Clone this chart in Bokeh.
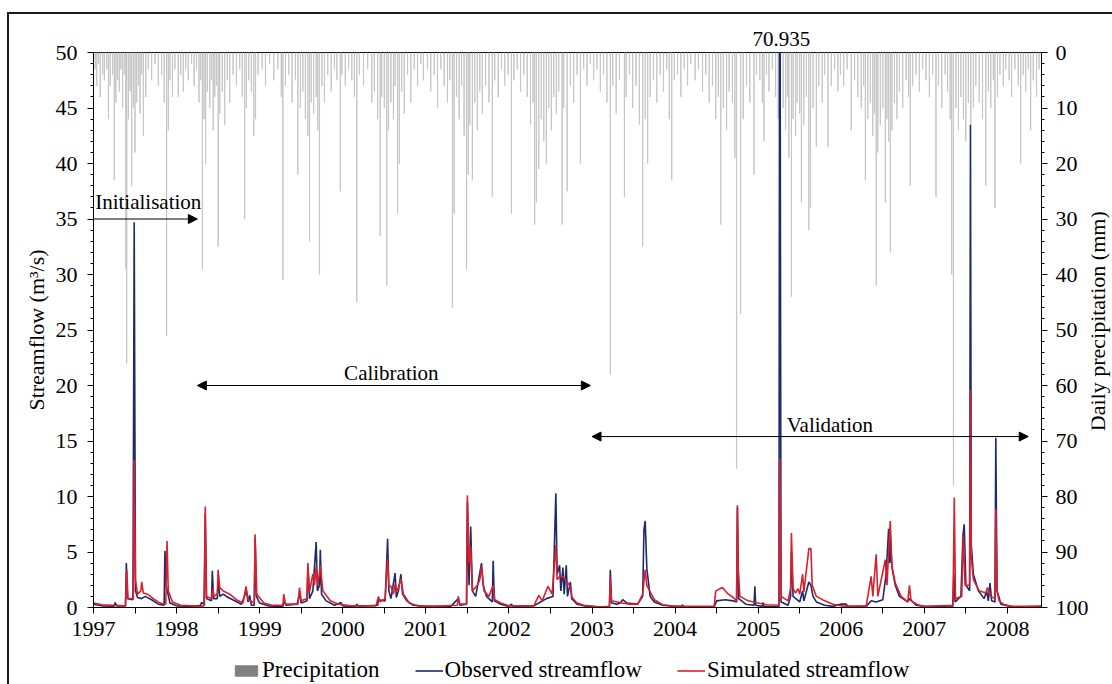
import math
from bokeh.plotting import figure
from bokeh.layouts import row, column
from bokeh.models import (Range1d, LinearAxis, FixedTicker, CustomJSTickFormatter, Label,
                          Arrow, NormalHead, Legend, LegendItem, ColumnDataSource)
from bokeh.embed import file_html
from bokeh.resources import INLINE

# ---------------- data (decimal year, value) ----------------
observed_flow = [
    (1997.00, 0.30), (1997.10, 0.15), (1997.25, 0.12), (1997.26, 0.45), (1997.28, 0.15), (1997.385, 0.15),
    (1997.395, 4.0), (1997.41, 0.8), (1997.475, 0.7), (1997.49, 34.7), (1997.505, 1.5), (1997.53, 0.9),
    (1997.58, 0.8), (1997.62, 1.0), (1997.70, 0.7), (1997.78, 0.3), (1997.85, 0.2), (1997.86, 5.1),
    (1997.875, 2.0), (1997.92, 0.4), (1998.00, 0.15), (1998.20, 0.1), (1998.29, 0.2), (1998.30, 0.45),
    (1998.33, 0.3), (1998.345, 8.5), (1998.36, 0.8), (1998.42, 0.6), (1998.43, 3.3), (1998.445, 0.8),
    (1998.49, 0.8), (1998.50, 2.6), (1998.52, 1.0), (1998.56, 1.2), (1998.62, 0.9), (1998.70, 0.6),
    (1998.78, 0.3), (1998.84, 1.5), (1998.86, 0.5), (1998.88, 1.1), (1998.90, 0.2), (1998.935, 0.2),
    (1998.945, 6.3), (1998.96, 1.0), (1999.00, 0.4), (1999.10, 0.15), (1999.28, 0.1), (1999.29, 0.5),
    (1999.32, 0.2), (1999.45, 0.3), (1999.48, 1.2), (1999.50, 0.4), (1999.57, 0.6), (1999.58, 3.5),
    (1999.60, 0.8), (1999.64, 1.5), (1999.68, 5.9), (1999.695, 1.5), (1999.72, 2.0), (1999.73, 5.2),
    (1999.745, 1.2), (1999.80, 0.6), (1999.90, 0.2), (1999.98, 0.45), (2000.00, 0.15), (2000.15, 0.1),
    (2000.17, 0.3), (2000.19, 0.1), (2000.42, 0.2), (2000.43, 0.7), (2000.51, 0.6), (2000.54, 6.2),
    (2000.555, 1.5), (2000.58, 0.8), (2000.63, 3.1), (2000.645, 0.9), (2000.67, 1.5), (2000.70, 3.0),
    (2000.72, 1.2), (2000.77, 0.6), (2000.85, 0.2), (2001.00, 0.1), (2001.30, 0.1), (2001.39, 0.8),
    (2001.41, 0.2), (2001.49, 0.3), (2001.50, 9.5), (2001.52, 2.0), (2001.54, 7.3), (2001.56, 1.5),
    (2001.60, 1.0), (2001.67, 4.0), (2001.69, 2.0), (2001.73, 1.0), (2001.80, 0.5), (2001.81, 4.2),
    (2001.825, 0.6), (2001.90, 0.3), (2002.00, 0.1), (2002.03, 0.3), (2002.05, 0.1), (2002.30, 0.15),
    (2002.38, 0.5), (2002.45, 0.8), (2002.53, 1.0), (2002.565, 10.3), (2002.58, 3.0), (2002.61, 3.8),
    (2002.625, 1.5), (2002.65, 3.6), (2002.665, 1.2), (2002.69, 3.8), (2002.705, 1.0), (2002.74, 2.3),
    (2002.755, 0.8), (2002.82, 0.3), (2002.90, 0.15), (2003.10, 0.05), (2003.21, 0.05), (2003.22, 3.4),
    (2003.235, 0.4), (2003.30, 0.3), (2003.34, 0.4), (2003.37, 0.7), (2003.42, 0.4), (2003.55, 0.3),
    (2003.61, 1.0), (2003.625, 7.0), (2003.64, 7.8), (2003.66, 3.5), (2003.70, 1.0), (2003.75, 0.5),
    (2003.85, 0.2), (2004.00, 0.1), (2004.08, 0.1), (2004.09, 0.25), (2004.10, 0.05), (2004.47, 0.05),
    (2004.50, 0.6), (2004.60, 0.7), (2004.70, 0.6), (2004.74, 0.5), (2004.75, 9.0), (2004.765, 0.8),
    (2004.85, 0.3), (2004.95, 0.2), (2004.96, 1.9), (2004.97, 0.2), (2005.05, 0.1), (2005.06, 0.45),
    (2005.07, 0.1), (2005.25, 0.05), (2005.26, 70.935), (2005.275, 0.5), (2005.36, 0.2), (2005.39, 1.0),
    (2005.40, 5.0), (2005.42, 1.0), (2005.50, 0.5), (2005.535, 1.5), (2005.55, 0.6), (2005.61, 2.3),
    (2005.635, 2.0), (2005.66, 1.0), (2005.70, 0.5), (2005.80, 0.2), (2005.90, 0.1), (2005.99, 0.3),
    (2006.06, 0.3), (2006.08, 0.1), (2006.30, 0.1), (2006.36, 0.6), (2006.42, 0.5), (2006.50, 0.7),
    (2006.54, 3.0), (2006.57, 7.1), (2006.585, 4.0), (2006.59, 6.5), (2006.61, 3.6), (2006.65, 2.0),
    (2006.70, 1.0), (2006.80, 0.5), (2006.82, 0.8), (2006.90, 0.2), (2007.00, 0.1), (2007.34, 0.05),
    (2007.355, 3.0), (2007.37, 0.5), (2007.44, 1.0), (2007.465, 6.5), (2007.48, 7.5), (2007.50, 2.0),
    (2007.545, 1.5), (2007.555, 43.5), (2007.565, 5.6), (2007.59, 3.0), (2007.65, 1.5), (2007.72, 0.8),
    (2007.75, 1.5), (2007.77, 0.6), (2007.79, 2.2), (2007.81, 0.6), (2007.85, 0.5), (2007.86, 15.3),
    (2007.875, 1.5), (2007.90, 0.9), (2007.92, 0.3), (2008.00, 0.15), (2008.10, 0.05), (2008.41, 0.1),
]

simulated_flow = [
    (1997.00, 0.4), (1997.10, 0.25), (1997.385, 0.15), (1997.40, 3.4), (1997.415, 0.8), (1997.48, 0.8),
    (1997.49, 13.3), (1997.505, 2.5), (1997.53, 1.2), (1997.57, 1.5), (1997.58, 2.3), (1997.60, 1.3),
    (1997.65, 1.2), (1997.72, 0.8), (1997.80, 0.4), (1997.87, 0.3), (1997.885, 6.0), (1997.90, 1.5),
    (1997.95, 0.5), (1998.05, 0.2), (1998.30, 0.1), (1998.335, 0.2), (1998.345, 9.1), (1998.36, 1.0),
    (1998.42, 0.8), (1998.435, 1.7), (1998.45, 1.0), (1998.49, 1.2), (1998.50, 3.4), (1998.52, 1.8),
    (1998.56, 1.5), (1998.64, 1.2), (1998.72, 0.7), (1998.80, 0.4), (1998.835, 1.9), (1998.86, 0.7),
    (1998.935, 0.4), (1998.945, 6.6), (1998.965, 1.2), (1999.05, 0.4), (1999.15, 0.2), (1999.28, 0.2),
    (1999.29, 1.2), (1999.31, 0.3), (1999.46, 0.3), (1999.48, 1.8), (1999.50, 0.6), (1999.57, 0.8),
    (1999.58, 4.0), (1999.60, 1.4), (1999.64, 3.0), (1999.66, 2.0), (1999.68, 3.7), (1999.70, 2.0),
    (1999.73, 3.8), (1999.76, 1.5), (1999.85, 0.6), (1999.95, 0.3), (2000.10, 0.15), (2000.40, 0.15),
    (2000.43, 1.0), (2000.45, 0.5), (2000.51, 0.8), (2000.54, 4.4), (2000.555, 2.0), (2000.58, 1.9),
    (2000.61, 1.2), (2000.63, 2.1), (2000.66, 1.5), (2000.70, 2.6), (2000.73, 1.2), (2000.80, 0.4),
    (2000.90, 0.15), (2001.10, 0.1), (2001.38, 0.2), (2001.39, 1.0), (2001.41, 0.3), (2001.49, 0.3),
    (2001.50, 10.1), (2001.52, 4.0), (2001.54, 5.5), (2001.56, 1.5), (2001.62, 2.0), (2001.65, 2.5),
    (2001.67, 3.7), (2001.70, 1.5), (2001.76, 1.0), (2001.81, 2.0), (2001.83, 0.7), (2001.90, 0.4),
    (2002.00, 0.15), (2002.30, 0.15), (2002.36, 1.1), (2002.40, 0.6), (2002.47, 1.9), (2002.52, 1.2),
    (2002.565, 5.6), (2002.58, 2.5), (2002.61, 2.8), (2002.65, 2.8), (2002.69, 2.4), (2002.74, 1.9),
    (2002.76, 0.9), (2002.82, 0.4), (2002.90, 0.2), (2003.10, 0.05), (2003.21, 0.1), (2003.22, 2.7),
    (2003.235, 0.6), (2003.30, 0.5), (2003.36, 0.4), (2003.45, 0.3), (2003.55, 0.3), (2003.61, 1.2),
    (2003.64, 3.4), (2003.66, 2.0), (2003.70, 1.4), (2003.75, 0.7), (2003.85, 0.25), (2004.00, 0.1),
    (2004.47, 0.1), (2004.49, 1.5), (2004.57, 1.8), (2004.64, 1.2), (2004.70, 0.9), (2004.74, 0.6),
    (2004.75, 9.2), (2004.76, 3.4), (2004.78, 1.0), (2004.88, 0.6), (2005.00, 0.4), (2005.10, 0.25),
    (2005.25, 0.2), (2005.26, 13.4), (2005.275, 1.0), (2005.36, 0.6), (2005.39, 1.7), (2005.40, 6.7),
    (2005.42, 1.7), (2005.45, 1.3), (2005.48, 1.7), (2005.50, 1.2), (2005.535, 3.0), (2005.55, 1.4),
    (2005.61, 5.3), (2005.635, 5.3), (2005.65, 2.0), (2005.70, 1.0), (2005.80, 0.6), (2005.90, 0.3),
    (2006.00, 0.15), (2006.10, 0.1), (2006.30, 0.15), (2006.36, 2.8), (2006.38, 1.0), (2006.42, 4.8),
    (2006.44, 1.0), (2006.53, 4.3), (2006.55, 2.0), (2006.59, 7.8), (2006.61, 3.7), (2006.65, 2.2),
    (2006.72, 1.0), (2006.80, 0.5), (2006.82, 2.0), (2006.84, 0.6), (2006.92, 0.25), (2007.00, 0.1),
    (2007.345, 0.2), (2007.36, 9.9), (2007.375, 0.8), (2007.45, 1.0), (2007.47, 6.5), (2007.49, 2.0),
    (2007.545, 2.0), (2007.555, 19.6), (2007.565, 4.5), (2007.59, 2.5), (2007.66, 1.5), (2007.74, 1.3),
    (2007.76, 1.8), (2007.80, 1.0), (2007.85, 0.8), (2007.86, 8.9), (2007.875, 1.5), (2007.90, 0.6),
    (2007.95, 0.3), (2008.05, 0.1), (2008.41, 0.1),
]

precip_1997 = [(1997.02, 3), (1997.04, 6), (1997.06, 2), (1997.08, 8), (1997.11, 4), (1997.13, 5), (1997.16, 3),
               (1997.18, 12), (1997.20, 6), (1997.23, 4), (1997.25, 23), (1997.27, 9), (1997.29, 5), (1997.31, 7),
               (1997.33, 3), (1997.35, 10), (1997.37, 4), (1997.39, 39), (1997.40, 56), (1997.42, 12),
               (1997.44, 7), (1997.46, 24), (1997.48, 10), (1997.50, 18), (1997.52, 9), (1997.54, 6),
               (1997.56, 11), (1997.58, 4), (1997.60, 15), (1997.63, 8), (1997.66, 3), (1997.70, 5),
               (1997.74, 2), (1997.78, 6), (1997.82, 4), (1997.85, 9), (1997.88, 51), (1997.90, 14),
               (1997.92, 5), (1997.95, 8), (1997.98, 3)]
precip_1998 = [(1998.02, 8), (1998.05, 4), (1998.08, 7), (1998.11, 3), (1998.14, 5), (1998.18, 2), (1998.21, 6),
               (1998.24, 3), (1998.27, 9), (1998.29, 5), (1998.31, 39), (1998.33, 12), (1998.35, 20),
               (1998.37, 7), (1998.40, 10), (1998.42, 5), (1998.44, 14), (1998.46, 8), (1998.48, 6),
               (1998.50, 35), (1998.52, 11), (1998.55, 7), (1998.58, 13), (1998.61, 5), (1998.64, 9),
               (1998.68, 4), (1998.72, 6), (1998.76, 3), (1998.79, 8), (1998.82, 30), (1998.84, 10),
               (1998.87, 5), (1998.90, 7), (1998.93, 15), (1998.95, 12), (1998.98, 4)]
precip_1999 = [(1999.03, 3), (1999.07, 6), (1999.12, 2), (1999.17, 5), (1999.22, 3), (1999.26, 8), (1999.28, 41),
               (1999.31, 6), (1999.35, 4), (1999.39, 9), (1999.43, 5), (1999.46, 22), (1999.49, 10),
               (1999.52, 7), (1999.55, 12), (1999.58, 15), (1999.60, 34), (1999.62, 9), (1999.65, 11),
               (1999.68, 8), (1999.70, 14), (1999.72, 40), (1999.75, 6), (1999.78, 9), (1999.82, 4),
               (1999.86, 7), (1999.90, 3), (1999.93, 5), (1999.97, 25), (1999.99, 4)]
precip_2000 = [(2000.03, 6), (2000.07, 3), (2000.11, 5), (2000.14, 8), (2000.17, 45), (2000.20, 4), (2000.25, 6),
               (2000.30, 3), (2000.35, 9), (2000.38, 7), (2000.42, 12), (2000.45, 33), (2000.47, 8),
               (2000.50, 10), (2000.53, 42), (2000.55, 14), (2000.58, 9), (2000.61, 12), (2000.63, 6),
               (2000.66, 29), (2000.68, 20), (2000.71, 7), (2000.74, 11), (2000.78, 4), (2000.82, 9),
               (2000.86, 3), (2000.90, 6), (2000.94, 2), (2000.97, 5)]
precip_2001 = [(2001.02, 3), (2001.06, 7), (2001.10, 4), (2001.14, 10), (2001.18, 3), (2001.22, 6), (2001.26, 9),
               (2001.29, 5), (2001.32, 46), (2001.34, 29), (2001.37, 8), (2001.40, 12), (2001.43, 6),
               (2001.46, 15), (2001.49, 39), (2001.51, 22), (2001.53, 13), (2001.56, 23), (2001.59, 9),
               (2001.62, 14), (2001.65, 7), (2001.68, 11), (2001.72, 6), (2001.76, 9), (2001.80, 26),
               (2001.83, 5), (2001.87, 8), (2001.91, 3), (2001.95, 6), (2001.99, 4)]
precip_2002 = [(2002.03, 29), (2002.06, 5), (2002.10, 3), (2002.14, 7), (2002.18, 4), (2002.22, 8), (2002.26, 13),
               (2002.29, 9), (2002.31, 31), (2002.33, 27), (2002.36, 21), (2002.39, 12), (2002.42, 16),
               (2002.45, 20), (2002.48, 10), (2002.51, 14), (2002.54, 8), (2002.57, 11), (2002.60, 7),
               (2002.64, 31), (2002.66, 10), (2002.70, 25), (2002.74, 6), (2002.78, 9), (2002.82, 4),
               (2002.86, 20), (2002.90, 3), (2002.94, 6), (2002.98, 2)]
precip_2003 = [(2003.02, 5), (2003.06, 3), (2003.10, 7), (2003.14, 4), (2003.18, 9), (2003.22, 58), (2003.25, 6),
               (2003.29, 11), (2003.33, 5), (2003.39, 26), (2003.41, 8), (2003.45, 4), (2003.49, 10),
               (2003.53, 6), (2003.57, 13), (2003.61, 35), (2003.64, 12), (2003.67, 20), (2003.70, 8),
               (2003.74, 5), (2003.78, 9), (2003.82, 4), (2003.86, 7), (2003.90, 3), (2003.93, 12),
               (2003.96, 23), (2003.99, 5)]
precip_2004 = [(2004.03, 4), (2004.07, 8), (2004.11, 3), (2004.15, 6), (2004.19, 2), (2004.24, 5), (2004.28, 3),
               (2004.33, 7), (2004.37, 4), (2004.41, 9), (2004.45, 6), (2004.49, 12), (2004.52, 8),
               (2004.55, 31), (2004.58, 10), (2004.62, 14), (2004.65, 7), (2004.69, 9), (2004.72, 19),
               (2004.74, 75), (2004.79, 47), (2004.82, 12), (2004.86, 6), (2004.90, 9), (2004.95, 22),
               (2004.98, 4)]
precip_2005 = [(2005.02, 5), (2005.05, 9), (2005.07, 16), (2005.10, 4), (2005.13, 7), (2005.17, 3), (2005.21, 8),
               (2005.24, 12), (2005.27, 6), (2005.30, 10), (2005.33, 14), (2005.35, 8), (2005.37, 19),
               (2005.40, 44), (2005.42, 12), (2005.45, 15), (2005.47, 9), (2005.50, 11), (2005.52, 27),
               (2005.55, 13), (2005.58, 8), (2005.61, 32), (2005.63, 28), (2005.66, 10), (2005.70, 17),
               (2005.73, 6), (2005.77, 9), (2005.80, 4), (2005.84, 17), (2005.88, 6), (2005.92, 3),
               (2005.96, 7), (2005.99, 4)]
precip_2006 = [(2006.03, 6), (2006.07, 3), (2006.12, 14), (2006.16, 5), (2006.20, 8), (2006.24, 10), (2006.27, 6),
               (2006.29, 23), (2006.32, 12), (2006.35, 9), (2006.38, 15), (2006.40, 11), (2006.42, 42),
               (2006.44, 18), (2006.47, 13), (2006.50, 10), (2006.53, 27), (2006.55, 12), (2006.57, 16),
               (2006.59, 36), (2006.61, 14), (2006.64, 9), (2006.67, 12), (2006.70, 7), (2006.74, 10),
               (2006.78, 5), (2006.81, 8), (2006.83, 24), (2006.86, 6), (2006.90, 4), (2006.94, 7),
               (2006.98, 3)]
precip_2007 = [(2007.02, 5), (2007.06, 8), (2007.10, 4), (2007.14, 26), (2007.17, 6), (2007.21, 10), (2007.25, 4),
               (2007.28, 7), (2007.31, 12), (2007.33, 40), (2007.35, 78), (2007.38, 10), (2007.41, 14),
               (2007.44, 8), (2007.47, 12), (2007.50, 16), (2007.53, 9), (2007.56, 13), (2007.59, 10),
               (2007.62, 6), (2007.66, 9), (2007.70, 12), (2007.74, 24), (2007.77, 7), (2007.80, 10),
               (2007.83, 5), (2007.85, 28), (2007.88, 8), (2007.91, 4), (2007.95, 6), (2007.98, 3)]
precip_2008 = [(2008.02, 5), (2008.05, 8), (2008.09, 3), (2008.13, 6), (2008.16, 20), (2008.19, 4), (2008.22, 7),
               (2008.25, 3), (2008.28, 14), (2008.31, 5), (2008.35, 8), (2008.38, 3)]

year_labels = list(range(1997, 2009))
flow_ticks = [0, 5, 10, 15, 20, 25, 30, 35, 40, 45, 50]
precip_ticks = [0, 10, 20, 30, 40, 50, 60, 70, 80, 90, 100]

# ---------------- build sources ----------------
precip_all = (precip_1997 + precip_1998 + precip_1999 + precip_2000 + precip_2001 + precip_2002 +
              precip_2003 + precip_2004 + precip_2005 + precip_2006 + precip_2007 + precip_2008)
precip_src = ColumnDataSource(dict(t=[a for a, b in precip_all], mm=[b for a, b in precip_all]))
obs_src = ColumnDataSource(dict(t=[a for a, b in observed_flow], q=[b for a, b in observed_flow]))
sim_src = ColumnDataSource(dict(t=[a for a, b in simulated_flow], q=[b for a, b in simulated_flow]))

SERIF = "Liberation Serif"
OBS_COLOR = "#1f2a6b"
SIM_COLOR = "#d8202e"
BAR_FILL = "#808080"
X_START, X_END = 1997.0, 2008.41

# ---------------- main chart ----------------
p = figure(width=1082, height=640, output_backend="svg", toolbar_location=None,
           x_range=Range1d(X_START, X_END), y_range=Range1d(0, 50),
           min_border_left=84, min_border_right=48, min_border_top=38, min_border_bottom=47)
p.xgrid.visible = False
p.ygrid.visible = False
p.outline_line_color = "black"
p.outline_line_width = 1
p.background_fill_color = "white"
p.border_fill_color = "white"

# peak value written above the frame
p.title.text = "70.935"
p.title.align = "left"
p.title.offset = 659
p.title.text_font = SERIF
p.title.text_font_size = "21px"
p.title.text_font_style = "normal"
p.title.text_color = "black"
p.title.standoff = 14
p.title.vertical_align = "bottom"

p.extra_y_ranges = {"precip": Range1d(100, 0)}

p.vbar(x="t", top="mm", bottom=0, width=0.0027, source=precip_src, y_range_name="precip",
       fill_color=BAR_FILL, line_color="#c4c4c4", line_width=0.8)
p.line("t", "q", source=obs_src, line_color=OBS_COLOR, line_width=1.6)
p.line("t", "q", source=sim_src, line_color=SIM_COLOR, line_width=1.6)


def style_axis(ax):
    ax.axis_line_color = "black"
    ax.axis_line_width = 1
    ax.major_tick_line_color = "black"
    ax.minor_tick_line_color = "black"
    ax.major_tick_out = 6
    ax.major_tick_in = 0
    ax.minor_tick_out = 3
    ax.minor_tick_in = 0
    ax.major_label_text_font = SERIF
    ax.major_label_text_font_size = "22px"
    ax.major_label_text_color = "black"
    ax.major_label_standoff = 8
    ax.axis_label_text_font = SERIF
    ax.axis_label_text_font_size = "22px"
    ax.axis_label_text_font_style = "normal"
    ax.axis_label_text_color = "black"


xa = p.xaxis[0]
style_axis(xa)
half_years = [y + h for y in year_labels for h in (0.0, 0.5) if y + h <= X_END]
xa.ticker = FixedTicker(ticks=half_years, minor_ticks=[])
xa.formatter = CustomJSTickFormatter(
    code="return (Math.abs(tick - Math.round(tick)) < 1e-6) ? String(Math.round(tick)) : '';")

ya = p.yaxis[0]
style_axis(ya)
ya.ticker = FixedTicker(ticks=flow_ticks, minor_ticks=list(range(0, 51)))
ya.axis_label = "Streamflow (m³/s)"
ya.axis_label_standoff = 4
ya.major_label_standoff = 10

ra = LinearAxis(y_range_name="precip")
style_axis(ra)
ra.ticker = FixedTicker(ticks=precip_ticks, minor_ticks=list(range(0, 101, 2)))
p.add_layout(ra, "right")

# period annotations
def head():
    return NormalHead(size=9, fill_color="black", line_color="black", line_width=1)

p.add_layout(Arrow(start=None, end=head(), x_start=1997.0, y_start=35, x_end=1998.25, y_end=35,
                   line_color="black", line_width=1))
p.add_layout(Label(x=1997.02, y=36.5, text="Initialisation", text_align="left", text_baseline="alphabetic",
                   text_font=SERIF, text_font_size="21px", text_color="black"))

p.add_layout(Arrow(start=head(), end=head(), x_start=1998.25, y_start=20, x_end=2002.98, y_end=20,
                   line_color="black", line_width=1))
p.add_layout(Label(x=2000.585, y=21.15, text="Calibration", text_align="center", text_baseline="alphabetic",
                   text_font=SERIF, text_font_size="21px", text_color="black"))

p.add_layout(Arrow(start=head(), end=head(), x_start=2003.0, y_start=15.4, x_end=2008.25, y_end=15.4,
                   line_color="black", line_width=1))
p.add_layout(Label(x=2005.863, y=16.45, text="Validation", text_align="center", text_baseline="alphabetic",
                   text_font=SERIF, text_font_size="21px", text_color="black"))

# ---------------- legend strip below the chart ----------------
# the same series feed the legend swatches; the strip's y-range keeps them out of view
leg_fig = figure(width=1082, height=30, output_backend="svg", toolbar_location=None,
                 x_range=Range1d(X_START, X_END), y_range=Range1d(1000, 1001),
                 x_axis_location=None, y_axis_location=None, min_border=0)
leg_fig.xgrid.visible = False
leg_fig.ygrid.visible = False
leg_fig.outline_line_color = None
r_bar = leg_fig.vbar(x="t", top="mm", width=0.0027, source=precip_src, fill_color=BAR_FILL, line_color=BAR_FILL)
r_obs = leg_fig.line("t", "q", source=obs_src, line_color=OBS_COLOR, line_width=1.6)
r_sim = leg_fig.line("t", "q", source=sim_src, line_color=SIM_COLOR, line_width=1.6)
legend = Legend(items=[LegendItem(label="Precipitation", renderers=[r_bar]),
                       LegendItem(label="Observed streamflow", renderers=[r_obs]),
                       LegendItem(label="Simulated streamflow", renderers=[r_sim])],
                orientation="horizontal", location=(139, 1),
                label_text_font=SERIF, label_text_font_size="23px", label_text_color="black",
                glyph_width=28, glyph_height=13, label_standoff=2, spacing=35,
                padding=0, margin=0, border_line_color=None, background_fill_alpha=0)
leg_fig.add_layout(legend)

# ---------------- right-hand title strip ----------------
side_fig = figure(width=21, height=670, output_backend="svg", toolbar_location=None,
                  x_range=Range1d(0, 21), y_range=Range1d(0, 670),
                  x_axis_location=None, y_axis_location=None, min_border=0)
side_fig.xgrid.visible = False
side_fig.ygrid.visible = False
side_fig.outline_line_color = None
side_fig.add_layout(Label(x=6, y=366, text="Daily precipitation  (mm)", angle=math.pi / 2,
                          text_align="center", text_baseline="alphabetic", text_font=SERIF,
                          text_font_size="22px", text_color="black"))

layout = row(column(p, leg_fig, spacing=0), side_fig, spacing=0)
layout.margin = (12, 0, 0, 7)
layout.styles = {"border-left": "2px solid #1a1a1a", "border-top": "2px solid #1a1a1a"}

open("out.html", "w").write(file_html(layout, INLINE))
